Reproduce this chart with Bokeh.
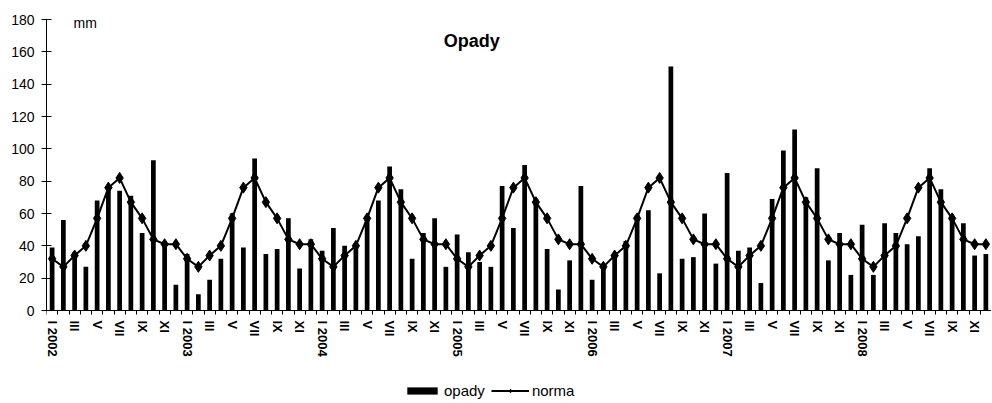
import math
from bokeh.plotting import figure
from bokeh.models import (ColumnDataSource, Range1d, FixedTicker, Label,
                          Legend, LegendItem)
from bokeh.embed import file_html
from bokeh.resources import INLINE

# ---- data ----
years = [2002, 2003, 2004, 2005, 2006, 2007, 2008]
roman = ["I", "II", "III", "IV", "V", "VI", "VII", "VIII", "IX", "X", "XI", "XII"]

opady = [
    39, 56, 36, 27, 68, 76, 74, 71, 48, 93, 41, 16,    # 2002
    35, 10, 19, 32, 60, 39, 94, 35, 38, 57, 26, 44,    # 2003
    37, 51, 40, 40, 57, 68, 89, 75, 32, 48, 57, 27,    # 2004
    47, 36, 30, 27, 77, 51, 90, 69, 38, 13, 31, 77,    # 2005
    19, 29, 35, 43, 59, 62, 23, 151, 32, 33, 60, 29,   # 2006
    85, 37, 39, 17, 69, 99, 112, 70, 88, 31, 48, 22,   # 2007
    53, 22, 54, 48, 41, 46, 88, 75, 58, 54, 34, 35,    # 2008
]
norma_month = [32, 27, 34, 40, 57, 76, 82, 67, 57, 44, 41, 41]
norma = norma_month * len(years)

y_ticks = [0, 20, 40, 60, 80, 100, 120, 140, 160, 180]
y_max = 180

FONT = "Liberation Sans"

n = len(opady)
xs = list(range(n))
labels = {}
for i in range(0, n, 2):
    m = i % 12
    labels[i] = f"I {years[i // 12]}" if m == 0 else roman[m]

src = ColumnDataSource(dict(x=xs, opady=opady, norma=norma))

# frame spans canvas y 19..400; value 0 sits at y=310 (291 px for 180 mm)
H = 400
TOP = 19
ZERO_Y = 310
px_per_mm = (ZERO_Y - TOP) / y_max
y_start = -(H - ZERO_Y) / px_per_mm

p = figure(width=991, height=H, output_backend="svg", toolbar_location=None,
           x_range=Range1d(-0.5, n - 0.5), y_range=Range1d(y_start, y_max),
           min_border_left=46, min_border_right=0, min_border_top=TOP,
           min_border_bottom=0)
p.outline_line_color = None
p.xgrid.grid_line_color = None
p.ygrid.grid_line_color = None
p.background_fill_color = "white"
p.border_fill_color = "white"

bars = p.vbar(x="x", top="opady", bottom=0, width=0.42, source=src,
              fill_color="black", line_color="black", line_width=0)
ln = p.line(x="x", y="norma", source=src, line_color="black", line_width=2)
sc = p.scatter(x="x", y="norma", source=src, marker="diamond", size=11,
               fill_color="black", line_color="black")

# x axis, drawn at value 0 inside the frame
xa = p.xaxis[0]
xa.fixed_location = 0
xa.ticker = FixedTicker(ticks=list(range(0, n, 2)),
                        minor_ticks=[i - 0.5 for i in range(0, n + 1)])
xa.major_label_overrides = labels
xa.major_label_orientation = -math.pi / 2
xa.major_tick_out = 0
xa.major_tick_in = 0
xa.minor_tick_out = 4
xa.minor_tick_in = 0
xa.minor_tick_line_color = "black"
xa.axis_line_color = "black"
xa.major_label_standoff = 6
xa.major_label_text_font = FONT
xa.major_label_text_font_size = "13px"
xa.major_label_text_font_style = "bold"
xa.major_label_text_color = "black"

# y axis
ya = p.yaxis[0]
ya.bounds = (0, y_max)
ya.ticker = FixedTicker(ticks=y_ticks)
ya.minor_tick_line_color = None
ya.major_tick_out = 5
ya.major_tick_in = 5
ya.major_tick_line_color = "black"
ya.axis_line_color = "black"
ya.major_label_standoff = 7
ya.major_label_text_font = FONT
ya.major_label_text_font_size = "14px"
ya.major_label_text_color = "black"

# title and unit
p.add_layout(Label(x=37.3, y=167, text="Opady", text_font=FONT,
                   text_font_size="18px", text_font_style="bold",
                   text_align="center", text_baseline="middle",
                   text_color="black"))
p.add_layout(Label(x=1.9, y=178, text="mm", text_font=FONT,
                   text_font_size="14px", text_align="left",
                   text_baseline="middle", text_color="black"))

legend = Legend(items=[LegendItem(label="opady", renderers=[bars]),
                       LegendItem(label="norma", renderers=[ln, sc])],
                location=(357, 1), orientation="horizontal",
                glyph_width=38, glyph_height=9, label_standoff=3, spacing=6,
                padding=0, margin=0, border_line_alpha=0,
                background_fill_alpha=0, label_text_font=FONT,
                label_text_font_size="15px", label_text_color="black",
                label_height=12)
p.add_layout(legend, "center")

open("out.html", "w").write(file_html(p, INLINE))
